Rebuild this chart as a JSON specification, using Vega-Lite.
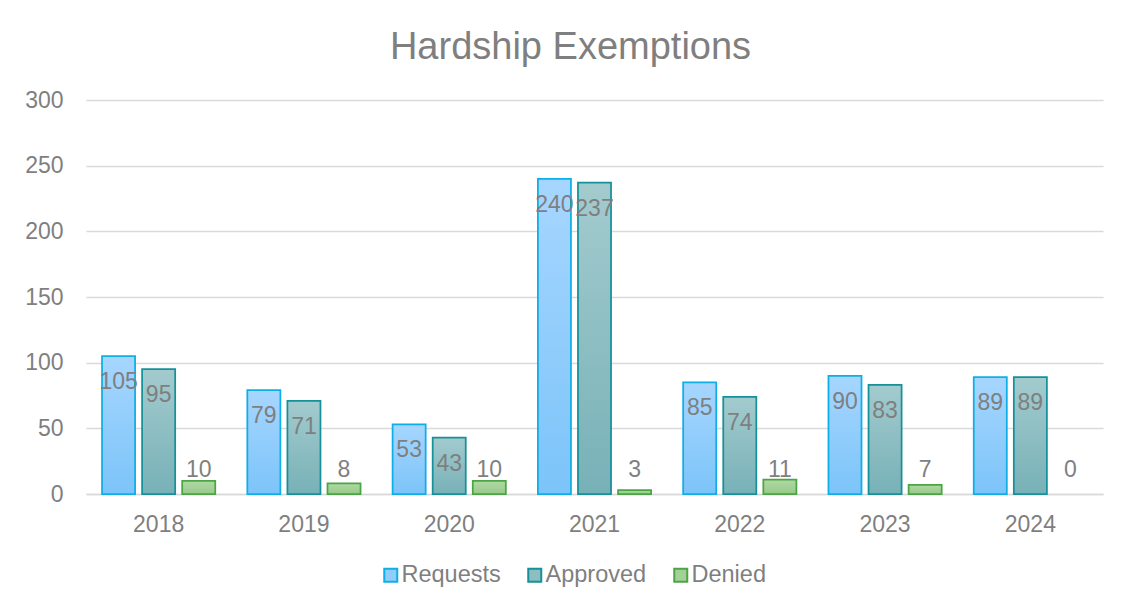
{
  "$schema": "https://vega.github.io/schema/vega-lite/v6.json",
  "autosize": {"type": "none"},
  "padding": {"left": 86, "top": 100, "right": 18, "bottom": 115},
  "width": 1017,
  "height": 394,
  "background": "white",
  "title": {
    "text": "Hardship Exemptions",
    "anchor": "middle",
    "dx": -24,
    "offset": 22,
    "font": "Liberation Sans",
    "fontSize": 38,
    "fontWeight": "normal",
    "color": "#7f7f7f"
  },
  "config": {
    "view": {"stroke": null},
    "font": "Liberation Sans",
    "axis": {
      "labelFont": "Liberation Sans",
      "labelFontSize": 23,
      "labelColor": "#7f7f7f",
      "ticks": false,
      "tickSize": 0,
      "title": null
    },
    "legend": {
      "labelFont": "Liberation Sans",
      "labelFontSize": 23.5,
      "labelColor": "#7f7f7f"
    }
  },
  "data": {
    "values": [
      {"year": "2018", "series": "Requests", "value": 105},
      {"year": "2018", "series": "Approved", "value": 95},
      {"year": "2018", "series": "Denied", "value": 10},
      {"year": "2019", "series": "Requests", "value": 79},
      {"year": "2019", "series": "Approved", "value": 71},
      {"year": "2019", "series": "Denied", "value": 8},
      {"year": "2020", "series": "Requests", "value": 53},
      {"year": "2020", "series": "Approved", "value": 43},
      {"year": "2020", "series": "Denied", "value": 10},
      {"year": "2021", "series": "Requests", "value": 240},
      {"year": "2021", "series": "Approved", "value": 237},
      {"year": "2021", "series": "Denied", "value": 3},
      {"year": "2022", "series": "Requests", "value": 85},
      {"year": "2022", "series": "Approved", "value": 74},
      {"year": "2022", "series": "Denied", "value": 11},
      {"year": "2023", "series": "Requests", "value": 90},
      {"year": "2023", "series": "Approved", "value": 83},
      {"year": "2023", "series": "Denied", "value": 7},
      {"year": "2024", "series": "Requests", "value": 89},
      {"year": "2024", "series": "Approved", "value": 89},
      {"year": "2024", "series": "Denied", "value": 0}
    ]
  },
  "encoding": {
    "x": {
      "field": "year",
      "type": "nominal",
      "scale": {"paddingInner": 0, "paddingOuter": 0},
      "axis": {
        "labelAngle": 0,
        "labelPadding": 19,
        "domain": true,
        "domainColor": "#d9d9d9",
        "domainWidth": 1.5,
        "grid": false
      }
    },
    "xOffset": {
      "field": "series",
      "type": "nominal",
      "sort": ["Requests", "Approved", "Denied"],
      "scale": {"domain": ["Requests", "Approved", "Denied"], "paddingInner": 0.175, "paddingOuter": 0.4}
    }
  },
  "layer": [
    {
      "transform": [{"filter": "datum.value > 0"}],
      "mark": {"type": "bar", "strokeWidth": 1.75, "strokeJoin": "miter"},
      "encoding": {
        "y": {
          "field": "value",
          "type": "quantitative",
          "scale": {"domain": [0, 300], "nice": false},
          "axis": {
            "values": [0, 50, 100, 150, 200, 250, 300],
            "domain": false,
            "grid": true,
            "gridColor": "#d9d9d9",
            "gridWidth": 1.5,
            "labelPadding": 23
          }
        },
        "fill": {
          "field": "series",
          "type": "nominal",
          "scale": {"domain": ["Requests", "Approved", "Denied"], "range": ["#90cdfb", "#8cbec2", "#a3d097"]},
          "legend": {
            "orient": "none",
            "legendX": 293,
            "legendY": 463,
            "direction": "horizontal",
            "title": null,
            "symbolType": "square",
            "symbolSize": 169,
            "symbolStrokeWidth": 2,
            "columnPadding": 22,
            "labelOffset": -1,
            "padding": 0
          },
          "condition": [
            {"test": "datum.series === 'Requests'", "value": {"gradient": "linear", "x1": 0, "y1": 0, "x2": 0, "y2": 1, "stops": [{"offset": 0, "color": "#a6d6ff"}, {"offset": 1, "color": "#7cc4f9"}]}},
            {"test": "datum.series === 'Approved'", "value": {"gradient": "linear", "x1": 0, "y1": 0, "x2": 0, "y2": 1, "stops": [{"offset": 0, "color": "#a3cbce"}, {"offset": 1, "color": "#77b1b7"}]}},
            {"test": "datum.series === 'Denied'", "value": {"gradient": "linear", "x1": 0, "y1": 0, "x2": 0, "y2": 1, "stops": [{"offset": 0, "color": "#b0d9a4"}, {"offset": 1, "color": "#97c98a"}]}}
          ]
        },
        "stroke": {
          "field": "series",
          "type": "nominal",
          "scale": {"domain": ["Requests", "Approved", "Denied"], "range": ["#0eaee6", "#16919a", "#4ca545"]},
          "legend": null
        }
      }
    },
    {
      "transform": [{"filter": "datum.series !== 'Denied'"}],
      "mark": {"type": "text", "baseline": "middle", "align": "center", "dy": 26, "fontSize": 23, "color": "#7f7f7f", "font": "Liberation Sans"},
      "encoding": {
        "y": {"field": "value", "type": "quantitative"},
        "text": {"field": "value", "type": "quantitative"}
      }
    },
    {
      "transform": [{"filter": "datum.series === 'Denied'"}],
      "mark": {"type": "text", "baseline": "middle", "align": "center", "dy": -24, "fontSize": 23, "color": "#7f7f7f", "font": "Liberation Sans"},
      "encoding": {
        "y": {"datum": 0, "type": "quantitative"},
        "text": {"field": "value", "type": "quantitative"}
      }
    }
  ]
}
